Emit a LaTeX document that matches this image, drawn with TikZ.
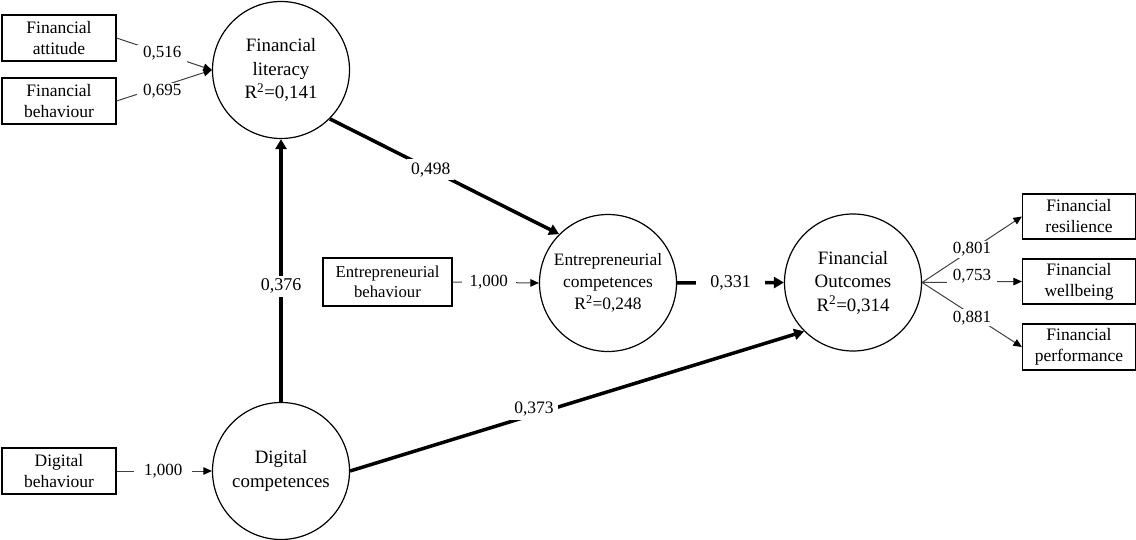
\documentclass[tikz,border=0pt]{standalone}
\usepackage{fontspec}
\setmainfont{Liberation Serif}
\usetikzlibrary{arrows.meta}

\begin{document}
\begin{tikzpicture}[x=1pt,y=-1pt,
  latent/.style={circle,draw,line width=1.2pt,minimum size=137pt,inner sep=0pt,
    align=center,font=\fontsize{18.9}{23.5}\selectfont},
  manifest/.style={rectangle,draw,line width=1.2pt,minimum width=114pt,
    minimum height=46pt,inner sep=0pt,align=center,font=\fontsize{17.5}{21}\selectfont},
  thinarrow/.style={draw=black!75,line width=1pt,-{Triangle[length=8.5pt,width=7.5pt,color=black]}},
  thickarrow/.style={line width=3.5pt,-{Triangle[length=10pt,width=11pt]}},
  coef/.style={fill=white,inner xsep=6pt,inner ysep=1.5pt,font=\fontsize{17}{20}\selectfont},
  pathcoef/.style={fill=white,inner xsep=4pt,inner ysep=3pt,font=\fontsize{18}{20}\selectfont},
]
\useasboundingbox (0,0) rectangle (1136,540);

% latent constructs
\node[latent] (fl) at (281,70) {Financial\\literacy\\R\textsuperscript{2}=0,141};
\node[latent] (dc) at (281,471) {Digital\\competences};
\node[latent,font=\fontsize{17.4}{22}\selectfont] (ec) at (608,283)
  {Entrepreneurial\\competences\\R\textsuperscript{2}=0,248};
\node[latent] (fo) at (853,282.5) {Financial\\Outcomes\\R\textsuperscript{2}=0,314};

% indicators
\node[manifest] (fa) at (59,38) {Financial\\attitude};
\node[manifest] (fb) at (59,101) {Financial\\behaviour};
\node[manifest,minimum width=129pt,minimum height=48pt,font=\fontsize{16.7}{20.5}\selectfont]
  (eb) at (387.5,282) {Entrepreneurial\\behaviour};
\node[manifest] (db) at (59,471) {Digital\\behaviour};
\node[manifest,minimum width=113pt,minimum height=45pt] (fr) at (1079,216.5) {Financial\\resilience};
\node[manifest,minimum width=113pt,minimum height=45pt] (fw) at (1079,281.5) {Financial\\wellbeing};
\node[manifest,minimum width=113pt,minimum height=46pt] (fp) at (1079,347) {Financial\\performance};

% measurement paths
\draw[thinarrow] (fa.east) -- node[coef,pos=0.48] {0,516} (fl.west);
\draw[thinarrow] (fb.east) -- node[coef,pos=0.48,yshift=-5pt] {0,695} (fl.west);
\draw[thinarrow] (db.east) -- node[coef,pos=0.49,inner xsep=10pt] {1,000} (dc.west);
\draw[thinarrow] (eb.east) -- node[coef,pos=0.42,inner xsep=8pt] {1,000} (ec.west);
\draw[thinarrow] (fo.east) -- node[coef,pos=0.5,inner xsep=3pt] {0,801} (fr.west);
\draw[thinarrow] (fo.east) -- node[coef,pos=0.5,yshift=6pt,inner xsep=6pt,inner ysep=2.5pt] {0,753} (fw.west);
\draw[thinarrow] (fo.east) -- node[coef,pos=0.5,yshift=-3pt,inner xsep=3pt] {0,881} (fp.west);

% structural paths
\draw[thickarrow] (fl.-45) -- node[pathcoef,pos=0.44,font=\fontsize{17.5}{20}\selectfont] {0,498} (ec.135);
\draw[thickarrow] (dc.north) -- node[pathcoef,pos=0.44] {0,376} (fl.south);
\draw[thickarrow] (ec.east) -- node[pathcoef,pos=0.5,inner xsep=14pt] {0,331} (fo.west);
\draw[thickarrow] (dc.east) -- node[pathcoef,pos=0.405,yshift=5pt,font=\fontsize{17.5}{20}\selectfont] {0,373} (fo.225);
\end{tikzpicture}
\end{document}
